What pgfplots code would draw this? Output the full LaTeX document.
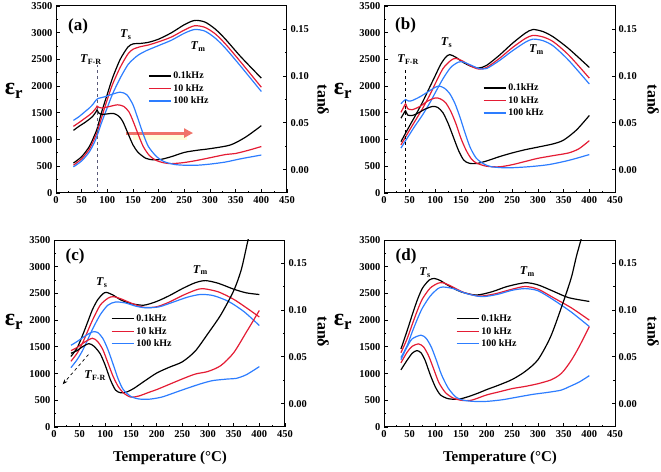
\documentclass[border=0pt]{standalone}
\usepackage{fontspec}
\setmainfont{Liberation Serif}
\usepackage{pgfplots}
\pgfplotsset{compat=1.18}
\usetikzlibrary{arrows.meta}
\definecolor{cred}{RGB}{228,28,52}
\definecolor{cblue}{RGB}{45,125,255}
\definecolor{arrowc}{RGB}{240,115,105}
\definecolor{dashc}{RGB}{90,90,120}
\newcommand{\tl}[1]{\textit{T}\textsubscript{#1}}
\pgfplotsset{
  common/.style={scale only axis, width=231pt, height=187pt, xmin=0, xmax=450,
    tick align=inside, axis line style={line width=1pt}, tick style={line width=0.9pt, black},
    major tick length=3.5pt, minor tick length=2pt,
    ticklabel style={font=\fontsize{10.5}{11}\selectfont\bfseries},
    /pgf/number format/assume math mode=true,
    every axis plot/.append style={line width=1.2pt, smooth, tension=0.45, mark=none}},
  leftax/.style={common, ymin=0, ymax=3500, xtick={0,50,...,450}, ytick={0,500,...,3500},
    minor x tick num=1, minor y tick num=1, xtick pos=bottom, ytick pos=left,
    /pgf/number format/set thousands separator={},
    legend style={draw=none, fill=none, font=\fontsize{10}{11.5}\selectfont\bfseries, inner sep=1pt},
    legend cell align=left,
    legend image code/.code={\draw[##1, line width=1.2pt] (0pt,0pt) -- (22pt,0pt);}},
  rightax/.style={common, ymin=-0.025, ymax=0.175, axis y line*=right, axis x line=none,
    ytick={0,0.05,0.1,0.15}, minor y tick num=1,
    yticklabel style={/pgf/number format/.cd, fixed, fixed zerofill, precision=2}},
}
\begin{document}
\begin{tikzpicture}
\useasboundingbox (0pt,0pt) rectangle (661pt,471pt);
% ---------------- (a)
\begin{axis}[leftax, at={(56pt,278pt)}, anchor=south west, legend style={at={(0.394,0.665)}, anchor=north west}]
\addplot[black] coordinates {(34,560)(50,680)(65,870)(75,1080)(80,1200)(90,1550)(100,1850)(110,2150)(125,2500)(140,2730)(150,2790)(165,2800)(180,2820)(200,2880)(225,3000)(250,3150)(270,3230)(290,3200)(310,3070)(330,2880)(360,2550)(400,2150)};
\addlegendentry{0.1kHz}
\addplot[cred] coordinates {(34,520)(50,640)(65,820)(75,1020)(80,1130)(90,1450)(100,1750)(110,2030)(125,2350)(140,2600)(150,2690)(165,2740)(180,2770)(200,2830)(225,2920)(250,3050)(270,3130)(290,3100)(310,2980)(330,2790)(360,2450)(400,1980)};
\addlegendentry{10 kHz}
\addplot[cblue] coordinates {(34,490)(50,600)(65,770)(75,950)(80,1070)(90,1350)(100,1600)(110,1850)(125,2150)(140,2400)(150,2500)(160,2580)(175,2660)(200,2760)(225,2860)(250,2990)(270,3060)(290,3030)(310,2900)(330,2710)(360,2370)(400,1900)};
\addlegendentry{100 kHz}
\draw[dashc, dashed, line width=0.8pt] (axis cs:80,0) -- (axis cs:80,2390);
\fill[yellow!40, opacity=0.35] (axis cs:150,1000) rectangle (axis cs:255,1110);
\draw[arrowc, line width=3pt, -{Triangle[length=9pt,width=9pt]}] (axis cs:137,1122) -- (axis cs:267,1122);
\node[font=\fontsize{17}{17}\selectfont\bfseries] at (axis cs:43,3110) {(a)};
\node[font=\fontsize{12}{12}\selectfont\bfseries] at (axis cs:136,2960) {\tl{s}};
\node[font=\fontsize{12}{12}\selectfont\bfseries] at (axis cs:277,2737) {\tl{m}};
\node[font=\fontsize{12}{12}\selectfont\bfseries] at (axis cs:68,2495) {\tl{F-R}};
\end{axis}
\begin{axis}[rightax, at={(56pt,278pt)}, anchor=south west]
\addplot[black] coordinates {(34,0.0420)(45,0.0464)(55,0.0499)(65,0.0539)(72,0.0573)(78,0.0619)(80,0.0640)(83,0.0607)(88,0.0590)(100,0.0596)(112,0.0601)(122,0.0573)(130,0.0516)(140,0.0390)(150,0.0264)(160,0.0184)(175,0.0121)(190,0.0104)(205,0.0110)(225,0.0139)(250,0.0184)(275,0.0207)(300,0.0224)(340,0.0264)(370,0.0350)(400,0.0470)};
\addplot[cred] coordinates {(34,0.0463)(45,0.0504)(55,0.0544)(65,0.0584)(72,0.0619)(78,0.0659)(80,0.0679)(84,0.0664)(90,0.0659)(105,0.0676)(120,0.0693)(132,0.0676)(142,0.0619)(150,0.0521)(160,0.0379)(170,0.0247)(182,0.0150)(195,0.0099)(210,0.0073)(225,0.0064)(250,0.0076)(275,0.0099)(300,0.0127)(330,0.0161)(350,0.0173)(375,0.0207)(400,0.0247)};
\addplot[cblue] coordinates {(34,0.0527)(45,0.0567)(55,0.0613)(65,0.0659)(72,0.0699)(78,0.0744)(82,0.0761)(95,0.0779)(110,0.0807)(125,0.0828)(138,0.0801)(150,0.0693)(160,0.0539)(170,0.0379)(180,0.0247)(195,0.0144)(210,0.0087)(230,0.0056)(250,0.0047)(275,0.0047)(300,0.0059)(330,0.0081)(360,0.0116)(400,0.0156)};
\end{axis}
% ---------------- (b)
\begin{axis}[leftax, at={(384pt,278pt)}, anchor=south west, legend style={at={(0.424,0.601)}, anchor=north west}]
\addplot[black] coordinates {(33,960)(42,1120)(50,1260)(60,1430)(75,1700)(90,2000)(100,2200)(110,2400)(120,2540)(128,2590)(140,2540)(155,2440)(170,2370)(185,2340)(200,2390)(225,2580)(250,2800)(275,2990)(290,3060)(310,3020)(330,2920)(360,2700)(400,2350)};
\addlegendentry{0.1kHz}
\addplot[cred] coordinates {(33,900)(42,1050)(50,1180)(60,1340)(75,1580)(90,1850)(100,2050)(115,2330)(130,2480)(140,2520)(155,2460)(170,2370)(185,2320)(200,2350)(225,2520)(250,2720)(275,2890)(290,2950)(310,2920)(330,2830)(360,2580)(400,2150)};
\addlegendentry{10 kHz}
\addplot[cblue] coordinates {(33,840)(42,980)(50,1100)(60,1250)(75,1460)(90,1700)(100,1880)(115,2140)(130,2350)(145,2450)(155,2450)(170,2390)(185,2330)(200,2330)(225,2480)(250,2660)(275,2820)(290,2880)(310,2850)(330,2750)(360,2480)(400,2040)};
\addlegendentry{100 kHz}
\draw[black, dashed, line width=0.7pt] (axis cs:42,0) -- (axis cs:42,2330);
\node[font=\fontsize{17}{17}\selectfont\bfseries] at (axis cs:42,3128) {(b)};
\node[font=\fontsize{12}{12}\selectfont\bfseries] at (axis cs:122,2817) {\tl{s}};
\node[font=\fontsize{12}{12}\selectfont\bfseries] at (axis cs:297,2681) {\tl{m}};
\node[font=\fontsize{12}{12}\selectfont\bfseries] at (axis cs:47,2495) {\tl{F-R}};
\end{axis}
\begin{axis}[rightax, at={(384pt,278pt)}, anchor=south west]
\addplot[black] coordinates {(33,0.0550)(38,0.0596)(42,0.0630)(46,0.0584)(55,0.0579)(65,0.0601)(80,0.0647)(95,0.0676)(105,0.0664)(115,0.0607)(125,0.0493)(135,0.0350)(145,0.0207)(155,0.0104)(165,0.0070)(180,0.0064)(200,0.0093)(225,0.0139)(250,0.0179)(275,0.0213)(300,0.0241)(330,0.0276)(350,0.0316)(375,0.0424)(400,0.0579)};
\addplot[cred] coordinates {(33,0.0613)(38,0.0664)(42,0.0704)(46,0.0653)(55,0.0641)(70,0.0676)(85,0.0733)(100,0.0767)(110,0.0756)(120,0.0716)(130,0.0624)(140,0.0493)(150,0.0333)(160,0.0207)(170,0.0116)(180,0.0070)(200,0.0036)(225,0.0030)(250,0.0053)(275,0.0087)(300,0.0121)(330,0.0150)(360,0.0179)(380,0.0224)(400,0.0310)};
\addplot[cblue] coordinates {(33,0.0704)(38,0.0733)(42,0.0750)(48,0.0733)(55,0.0739)(70,0.0779)(85,0.0830)(100,0.0881)(108,0.0893)(118,0.0870)(128,0.0813)(138,0.0710)(148,0.0561)(158,0.0390)(168,0.0236)(180,0.0121)(195,0.0059)(210,0.0030)(240,0.0019)(280,0.0030)(320,0.0053)(360,0.0099)(400,0.0161)};
\end{axis}
% ---------------- (c)
\begin{axis}[leftax, at={(54pt,44pt)}, anchor=south west, legend style={at={(0.242,0.618)}, anchor=north west}]
\addplot[black] coordinates {(33,1320)(45,1480)(55,1700)(65,1950)(75,2200)(85,2380)(95,2490)(102,2520)(115,2470)(130,2380)(150,2310)(175,2280)(200,2350)(225,2460)(250,2590)(275,2700)(295,2740)(320,2690)(350,2580)(375,2510)(400,2480)};
\addlegendentry{0.1kHz}
\addplot[cred] coordinates {(33,1230)(45,1380)(55,1560)(65,1780)(75,2000)(90,2280)(105,2410)(115,2440)(130,2400)(150,2320)(175,2240)(200,2250)(225,2340)(250,2460)(275,2560)(290,2590)(320,2530)(350,2390)(375,2230)(400,2060)};
\addlegendentry{10 kHz}
\addplot[cblue] coordinates {(33,1110)(45,1260)(55,1420)(65,1620)(75,1830)(90,2100)(105,2280)(120,2340)(140,2320)(160,2260)(180,2230)(205,2250)(230,2330)(260,2430)(285,2480)(310,2460)(340,2350)(370,2160)(400,1900)};
\addlegendentry{100 kHz}
\draw[black, dashed, line width=0.7pt, -{Stealth[length=5pt]}] (axis cs:67,1355) -- (axis cs:17,800);
\node[font=\fontsize{17}{17}\selectfont\bfseries] at (axis cs:41,3199) {(c)};
\node[font=\fontsize{12}{12}\selectfont\bfseries] at (axis cs:93,2700) {\tl{s}};
\node[font=\fontsize{12}{12}\selectfont\bfseries] at (axis cs:285,2939) {\tl{m}};
\node[font=\fontsize{12}{12}\selectfont\bfseries] at (axis cs:80,960) {\tl{F-R}};
\end{axis}
\begin{axis}[rightax, at={(54pt,44pt)}, anchor=south west]
\addplot[black] coordinates {(33,0.0539)(45,0.0567)(55,0.0607)(68,0.0641)(78,0.0613)(90,0.0533)(100,0.0407)(110,0.0253)(120,0.0144)(130,0.0116)(140,0.0121)(155,0.0161)(175,0.0236)(200,0.0327)(225,0.0390)(250,0.0447)(275,0.0561)(300,0.0750)(325,0.0950)(350,0.1207)(365,0.1436)(378,0.1750)(385,0.1893)};
\addplot[cred] coordinates {(33,0.0567)(45,0.0601)(60,0.0659)(75,0.0699)(85,0.0664)(95,0.0579)(105,0.0436)(115,0.0293)(125,0.0184)(135,0.0116)(149,0.0070)(165,0.0081)(185,0.0121)(200,0.0150)(225,0.0207)(250,0.0264)(275,0.0316)(300,0.0344)(325,0.0407)(350,0.0544)(375,0.0767)(400,0.0996)};
\addplot[cblue] coordinates {(33,0.0624)(45,0.0664)(60,0.0721)(75,0.0767)(85,0.0761)(95,0.0699)(105,0.0579)(115,0.0424)(125,0.0264)(135,0.0150)(150,0.0076)(165,0.0050)(185,0.0047)(210,0.0070)(240,0.0127)(270,0.0184)(290,0.0219)(310,0.0247)(340,0.0264)(355,0.0270)(375,0.0310)(400,0.0396)};
\end{axis}
% ---------------- (d)
\begin{axis}[leftax, at={(384pt,44pt)}, anchor=south west, legend style={at={(0.307,0.618)}, anchor=north west}]
\addplot[black] coordinates {(33,1460)(45,1800)(55,2100)(65,2380)(75,2600)(88,2750)(98,2780)(110,2740)(125,2650)(150,2530)(180,2470)(210,2530)(240,2630)(275,2700)(300,2660)(330,2540)(360,2420)(400,2350)};
\addlegendentry{0.1kHz}
\addplot[cred] coordinates {(33,1390)(45,1650)(55,1920)(65,2180)(75,2400)(90,2600)(105,2690)(115,2700)(130,2640)(155,2520)(185,2450)(215,2490)(250,2580)(275,2630)(300,2580)(330,2420)(365,2230)(400,2000)};
\addlegendentry{10 kHz}
\addplot[cblue] coordinates {(33,1300)(45,1520)(55,1780)(65,2020)(75,2230)(90,2450)(105,2590)(115,2620)(135,2590)(160,2500)(190,2440)(220,2480)(250,2560)(275,2590)(300,2550)(330,2380)(365,2150)(400,1880)};
\addlegendentry{100 kHz}
\node[font=\fontsize{17}{17}\selectfont\bfseries] at (axis cs:43,3199) {(d)};
\node[font=\fontsize{12}{12}\selectfont\bfseries] at (axis cs:80,2890) {\tl{s}};
\node[font=\fontsize{12}{12}\selectfont\bfseries] at (axis cs:279,2907) {\tl{m}};
\end{axis}
\begin{axis}[rightax, at={(384pt,44pt)}, anchor=south west]
\addplot[black] coordinates {(33,0.0361)(45,0.0464)(55,0.0539)(64,0.0567)(72,0.0544)(80,0.0464)(90,0.0310)(100,0.0179)(110,0.0093)(125,0.0053)(145,0.0047)(165,0.0076)(185,0.0116)(200,0.0150)(225,0.0201)(250,0.0259)(275,0.0344)(300,0.0470)(325,0.0721)(350,0.1099)(365,0.1350)(375,0.1579)(385,0.1779)(390,0.1921)};
\addplot[cred] coordinates {(33,0.0436)(45,0.0550)(55,0.0613)(67,0.0639)(77,0.0607)(87,0.0510)(97,0.0367)(107,0.0224)(120,0.0116)(135,0.0059)(150,0.0036)(170,0.0036)(200,0.0093)(225,0.0127)(250,0.0161)(275,0.0184)(300,0.0213)(325,0.0253)(340,0.0299)(350,0.0350)(365,0.0464)(380,0.0607)(400,0.0824)};
\addplot[cblue] coordinates {(33,0.0470)(45,0.0607)(55,0.0693)(72,0.0732)(82,0.0699)(92,0.0607)(102,0.0464)(112,0.0310)(125,0.0167)(140,0.0070)(155,0.0036)(175,0.0024)(200,0.0024)(230,0.0041)(260,0.0070)(290,0.0099)(320,0.0121)(345,0.0144)(360,0.0179)(380,0.0230)(400,0.0299)};
\end{axis}
% ---------------- outer labels
\foreach \px/\py in {14/380, 343/380, 14/149, 343/149}
  \node[font=\fontsize{24}{24}\selectfont\bfseries] at (\px pt,\py pt) {ε\textsubscript{r}};
\foreach \px/\py in {323/371, 653/371, 323/139, 653/139}
  \node[rotate=-90, font=\fontsize{16}{16}\selectfont\bfseries] at (\px pt,\py pt) {tanδ};
\node[font=\fontsize{15}{15}\selectfont\bfseries] at (170pt,13pt) {Temperature (°C)};
\node[font=\fontsize{15}{15}\selectfont\bfseries] at (500pt,13pt) {Temperature (°C)};
\end{tikzpicture}
\end{document}
